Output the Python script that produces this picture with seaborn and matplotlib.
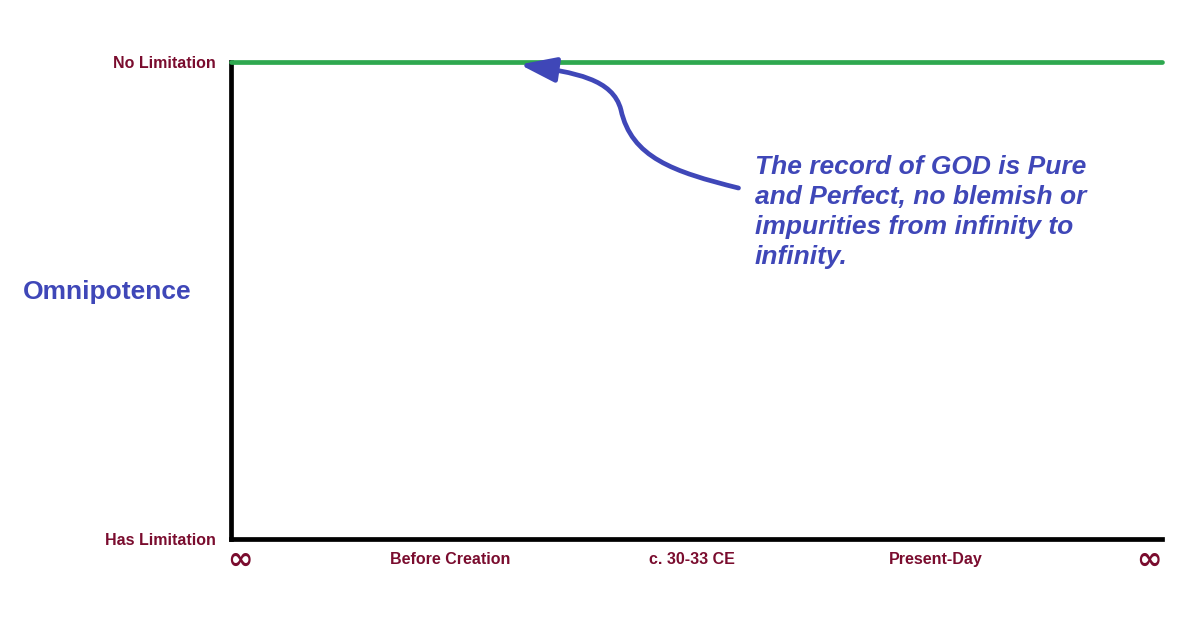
import numpy as np
import pandas as pd
import matplotlib.pyplot as plt
import matplotlib.transforms as mtransforms
import seaborn as sns
from matplotlib.path import Path
from matplotlib.patches import FancyArrowPatch

# timeline categories (x) and the single "record" series (y)
eras = ['\u221e', 'Before Creation', 'c. 30-33 CE', 'Present-Day', '\u221e']
record = [1, 1, 1, 1, 1]
levels = ['Has Limitation', 'No Limitation']
note = 'The record of GOD is Pure\nand Perfect, no blemish or\nimpurities from infinity to\ninfinity.'

maroon = '#7a0c2e'
blue = '#3f47b8'
green = '#2ea84f'

sns.set_theme(style='white')
plt.rcParams['font.family'] = ['Liberation Sans', 'DejaVu Sans']

df = pd.DataFrame({'pos': np.arange(len(eras)), 'record': record})

fig = plt.figure(figsize=(12, 6.3), dpi=100)
ax = fig.add_axes([0.1925, 0.1444, 0.776, 0.757])

sns.lineplot(data=df, x='pos', y='record', ax=ax, color=green, linewidth=3.4, clip_on=False, zorder=3)

ax.set_xlim(0, len(eras) - 1)
ax.set_ylim(0, 1)

for s in ['top', 'right']:
    ax.spines[s].set_visible(False)
for s in ['left', 'bottom']:
    ax.spines[s].set_color('black')
    ax.spines[s].set_linewidth(3.4)

ax.set_xticks(df['pos'])
ax.set_xticklabels(eras, fontsize=11.5, fontweight='bold', color=maroon)
ax.set_yticks([0, 1])
ax.set_yticklabels(levels, fontsize=11.5, fontweight='bold', color=maroon)
ax.tick_params(axis='x', length=0, pad=9)
ax.tick_params(axis='y', length=0, pad=11)

# the middle era labels sit a little off the even grid in the original
xt = ax.get_xticklabels()
for t, dx in zip(xt[1:4], [-14, -5, 6]):
    t.set_transform(t.get_transform() + mtransforms.ScaledTranslation(dx / 100, 0, fig.dpi_scale_trans))
xt[0].set_ha('left')
xt[-1].set_ha('right')
for t, dx in ((xt[0], -0.04), (xt[-1], -0.01)):
    t.set_family('DejaVu Sans')
    t.set_fontsize(22)
    t.set_fontweight('heavy')
    t.set_transform(t.get_transform() + mtransforms.ScaledTranslation(dx, 0.06, fig.dpi_scale_trans))

ax.set_xlabel('')
ax.set_ylabel('Omnipotence', fontsize=19, fontweight='bold', color=blue,
              rotation=0, ha='left', va='center')
ax.yaxis.set_label_coords(-0.223, 0.517)

ax.text(2.25, 0.806, note, fontsize=19, fontweight='bold', fontstyle='italic',
        color=blue, ha='left', va='top', linespacing=1.32)

# curved pointer from the note up to the green line
verts = [(2.18, 0.736), (1.90, 0.770), (1.72, 0.800), (1.675, 0.900),
         (1.64, 0.965), (1.48, 0.978), (1.24, 0.995)]
codes = [Path.MOVETO, Path.CURVE4, Path.CURVE4, Path.CURVE4,
         Path.CURVE4, Path.CURVE4, Path.CURVE4]
arrow = FancyArrowPatch(path=Path(verts, codes), arrowstyle='-|>,head_length=1.1,head_width=0.38',
                        mutation_scale=20, color=blue, linewidth=3.4, clip_on=False, zorder=4)
ax.add_patch(arrow)

fig.savefig('out.png', dpi=100)
